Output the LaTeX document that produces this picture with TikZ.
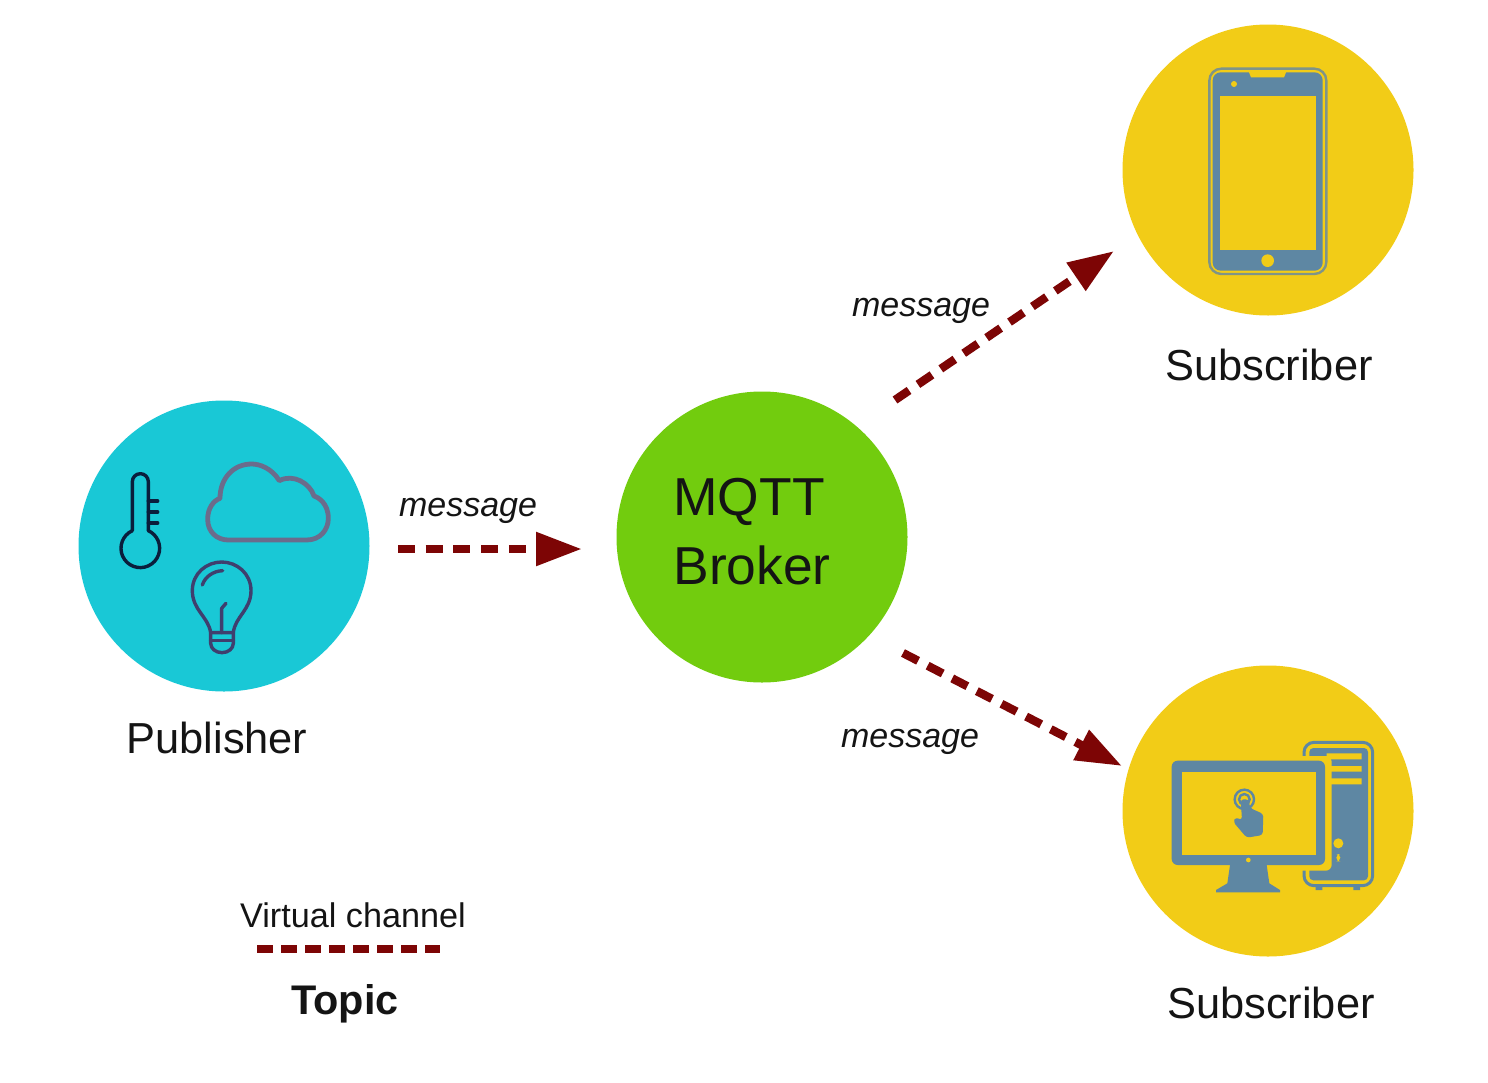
\documentclass[tikz,border=0pt]{standalone}
\usepackage{fontspec}
\setmainfont{Liberation Sans}
\usetikzlibrary{arrows.meta}
\definecolor{pubcol}{HTML}{19C8D6}
\definecolor{brokercol}{HTML}{72CC0E}
\definecolor{subcol}{HTML}{F2CC17}
\definecolor{iconblue}{HTML}{5E87A3}
\definecolor{rimcol}{HTML}{7F9488}
\definecolor{linkcol}{HTML}{7D0505}
\definecolor{cloudcol}{HTML}{6B6C8C}
\definecolor{bulbcol}{HTML}{3F3F6E}
\definecolor{thermcol}{HTML}{0A1E3C}
\definecolor{inkcol}{HTML}{141414}
\tikzset{
  hub/.style={circle,minimum size=145.5pt,inner sep=0pt,draw=none},
  caption/.style={font=\fontsize{21.7}{24}\selectfont,text=inkcol,inner sep=0pt},
  brokertext/.style={font=\fontsize{26.7}{30}\selectfont,text=inkcol,inner sep=0pt,anchor=west},
  msg/.style={font=\fontsize{17}{20}\selectfont\itshape,text=inkcol,inner sep=0pt},
  link/.style={draw=linkcol,line width=4.2pt,dash pattern=on 8.5pt off 5.35pt,-{Triangle[length=23pt,width=16pt,fill=linkcol]}},
  legendline/.style={draw=linkcol,line width=4pt,dash pattern=on 8pt off 4pt},
}
\begin{document}
\begin{tikzpicture}[x=0.5pt,y=-0.5pt]
\useasboundingbox (0,0) rectangle (1488,1082);
\node[hub,fill=pubcol] (pub) at (224,546) {};
\node[hub,fill=brokercol] (broker) at (762,537) {};
\node[hub,fill=subcol] (sub1) at (1268,170) {};
\node[hub,fill=subcol] (sub2) at (1268,811) {};
% thermometer
\begin{scope}[shift={(80,440)},scale=1/3,draw=thermcol,line width=1.7pt,line cap=round,line join=round]
\draw (157,272) -- (157,125) arc[start angle=180,end angle=360,radius=24] -- (205,272);
\draw (157,272) arc[start angle=245.6,end angle=-65.6,radius=58];
\draw (205,183) -- (233,183) (205,216) -- (233,216) (205,249) -- (233,249);
\end{scope}
% cloud
\begin{scope}[shift={(80,440)},scale=1/3,line join=round]
\draw[cloudcol,line width=2.4pt] (445,300) -- (680,300) .. controls (720,300) and (745,270) .. (745,235)
 .. controls (745,190) and (715,172) .. (702,168) .. controls (690,130) and (640,100) .. (598,122)
 .. controls (575,85) and (540,72) .. (515,72) .. controls (460,72) and (420,115) .. (420,175)
 .. controls (400,182) and (383,205) .. (383,238) .. controls (383,275) and (410,300) .. (445,300) -- cycle;
\end{scope}
% bulb
\begin{scope}[shift={(80,440)},scale=1/3,draw=bulbcol,line width=1.7pt,line cap=round,line join=round]
\draw (392,578) .. controls (385,530) and (337,510) .. (337,452) .. controls (337,400) and (380,366) .. (425,366)
 .. controls (470,366) and (513,400) .. (513,452) .. controls (513,510) and (465,530) .. (460,578) -- cycle;
\draw (392,578) -- (392,610) arc[start angle=180,end angle=0,x radius=34,y radius=28] -- (460,578);
\draw (392,602) -- (460,602);
\draw (425,578) -- (425,505) -- (438,490);
\draw (367,435) .. controls (375,410) and (400,393) .. (428,392);
\end{scope}
% phone
\begin{scope}[shift={(1190,50)},scale=1/3]
\draw[rimcol,line width=1.2pt,rounded corners=6pt] (58,56) rectangle (409,672);
\fill[iconblue,rounded corners=4pt] (68,67) rectangle (398,662);
\fill[subcol] (90,138) rectangle (378,600);
\fill[subcol] (175,62) -- (290,62) -- (282,82) -- (183,82) -- cycle;
\fill[subcol] (132,102) circle[radius=9];
\fill[subcol] (233,632) circle[radius=19];
\end{scope}
% computer
\begin{scope}[shift={(1150,720)},scale=1/3]
\draw[iconblue,line width=1.5pt,rounded corners=5pt] (462,67) rectangle (668,497);
\fill[iconblue,rounded corners=2pt] (478,84) rectangle (654,481);
\fill[iconblue] (497,497) rectangle (517,510) (610,497) rectangle (630,510);
\fill[subcol] (530,100) rectangle (635,118) (530,138) rectangle (635,155) (530,175) rectangle (635,193);
\fill[subcol] (565,370) circle[radius=15];
\fill[subcol,rounded corners=2pt] (559,402) rectangle (571,424);
\fill[subcol,rounded corners=3pt] (440,108) rectangle (545,452);
\fill[iconblue,rounded corners=3pt] (65,122) rectangle (525,435);
\fill[subcol] (95,155) rectangle (498,405);
\fill[subcol] (295,420) circle[radius=7];
\fill[iconblue] (240,435) -- (350,435) -- (358,490) -- (390,510) -- (390,517) -- (198,517) -- (198,510) -- (232,490) -- cycle;
\draw[iconblue,line width=1.2pt] (283,238) circle[radius=29];
\draw[iconblue,line width=1.2pt] (283,238) circle[radius=16];
\fill[iconblue,rounded corners=1.5pt] (272,238) -- (296,238) -- (300,264) -- (340,282) -- (338,345) -- (290,353) -- (250,306) -- (256,292) -- (276,300) -- cycle;
\end{scope}
% connectors
\coordinate (l1a) at (398,549); \coordinate (l1b) at (582,549);
\coordinate (l2a) at (895,400); \coordinate (l2b) at (1114,251);
\coordinate (l3a) at (903,653); \coordinate (l3b) at (1122,766);
\coordinate (lga) at (257,949); \coordinate (lgb) at (440,949);
\draw[link] (l1a) -- (l1b);
\draw[link] (l2a) -- (l2b);
\draw[link] (l3a) -- (l3b);
\draw[legendline] (lga) -- (lgb);
% text
\node[caption] (tpub) at (217,738) {Publisher};
\node[caption] (tsub1) at (1269,365) {Subscriber};
\node[caption] (tsub2) at (1271,1003) {Subscriber};
\node[brokertext] (tb1) at (673,502) {MQTT};
\node[brokertext] (tb2) at (673,565) {Broker};
\node[msg] (m1) at (468,511) {message};
\node[msg] (m2) at (921,311) {message};
\node[msg] (m3) at (910,742) {message};
\node[font=\fontsize{17.1}{20}\selectfont,text=inkcol,inner sep=0pt] (vc) at (353,915) {Virtual channel};
\node[font=\fontsize{20.7}{24}\selectfont\bfseries,text=inkcol,inner sep=0pt] (topic) at (345,1004) {Topic};
\end{tikzpicture}
\end{document}
